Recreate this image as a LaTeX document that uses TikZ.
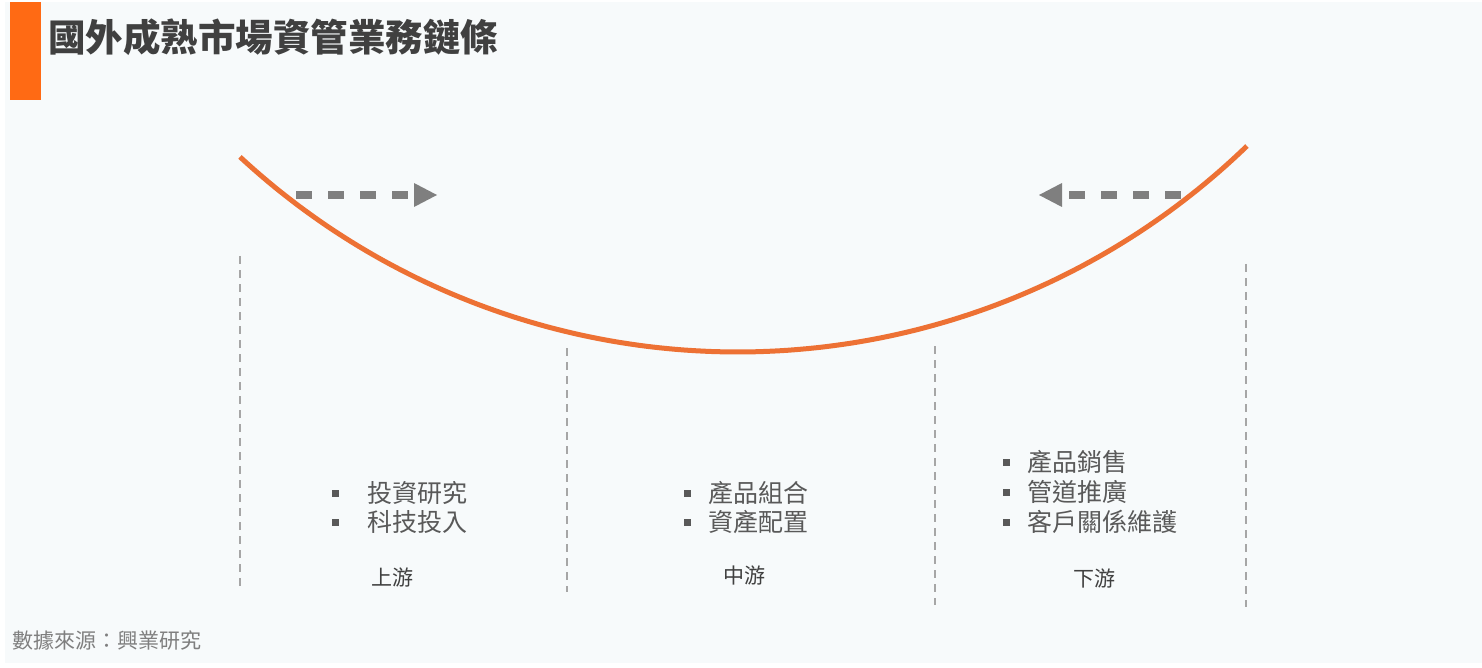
\documentclass[tikz,border=0pt]{standalone}
\usepackage{fontspec}
\setmainfont{Noto Sans CJK TC}
\usetikzlibrary{arrows.meta}
\definecolor{bg}{RGB}{247,250,251}
\definecolor{barorange}{RGB}{255,106,20}
\definecolor{curveorange}{RGB}{237,113,52}
\definecolor{titlegray}{RGB}{64,64,64}
\definecolor{itemgray}{RGB}{89,89,89}
\definecolor{arrowgray}{RGB}{127,127,127}
\definecolor{vgray}{RGB}{166,166,166}
\definecolor{srcgray}{RGB}{127,127,127}
\tikzset{
  curve/.style={draw=curveorange, line width=5pt},
  darrow/.style={draw=arrowgray, line width=8pt, dash pattern=on 16pt off 16pt,
    -{Triangle[length=23pt, width=24pt, line width=0pt]}},
  vdash/.style={draw=vgray, line width=2pt, dash pattern=on 8pt off 6pt},
  bul/.style={fill=itemgray, minimum size=7pt, inner sep=0pt, outer sep=0pt},
  item/.style={anchor=west, inner sep=0pt, text=itemgray, font=\fontsize{25}{29}\selectfont},
  lab/.style={inner sep=0pt, text=titlegray, font=\fontsize{21}{24}\selectfont},
}
\begin{document}
\begin{tikzpicture}[x=1pt,y=-1pt]
\useasboundingbox (0,0) rectangle (1482,668);
\fill[bg] (5,2) rectangle (1482,663);
\fill[barorange] (10,2) rectangle (41,100);
\node[anchor=west, inner sep=0pt, text=titlegray, font=\fontsize{37.5}{42}\selectfont\bfseries] (title) at (48,37) {國外成熟市場資管業務鏈條};

% curve
\draw[curve] plot[domain=-42.8:44.04, samples=120] ({737.7+732.6*sin(\x)}, {-380.6+732.6*cos(\x)});

% arrows
\coordinate (la1) at (296,195);
\coordinate (la2) at (437,195);
\draw[darrow] (la1) -- (la2);
\coordinate (ra1) at (1181,195);
\coordinate (ra2) at (1039,195);
\draw[darrow] (ra1) -- (ra2);

% vertical dashed lines
\coordinate (v1t) at (240,256); \coordinate (v1b) at (240,586);
\coordinate (v2t) at (567,348); \coordinate (v2b) at (567,592);
\coordinate (v3t) at (935,346); \coordinate (v3b) at (935,605);
\coordinate (v4t) at (1246,264); \coordinate (v4b) at (1246,607);
\draw[vdash] (v1t) -- (v1b);
\draw[vdash] (v2t) -- (v2b);
\draw[vdash] (v3t) -- (v3b);
\draw[vdash] (v4t) -- (v4b);

% upstream
\node[bul] (b11) at (335,493) {};
\node[item] (t11) at (367,493) {投資研究};
\node[bul] (b12) at (335,522) {};
\node[item] (t12) at (367,522) {科技投入};
\node[lab] (l1) at (392,578) {上游};

% midstream
\node[bul] (b21) at (687,493) {};
\node[item] (t21) at (708,493) {產品組合};
\node[bul] (b22) at (687,522) {};
\node[item] (t22) at (708,522) {資產配置};
\node[lab] (l2) at (744,576) {中游};

% downstream
\node[bul] (b31) at (1006,462) {};
\node[item] (t31) at (1027,462) {產品銷售};
\node[bul] (b32) at (1006,492) {};
\node[item] (t32) at (1027,492) {管道推廣};
\node[bul] (b33) at (1006,522) {};
\node[item] (t33) at (1027,522) {客戶關係維護};
\node[lab] (l3) at (1094,579) {下游};

% source
\node[anchor=west, inner sep=0pt, text=srcgray, font=\fontsize{21}{24}\selectfont] (src) at (12,641) {數據來源：興業研究};
\end{tikzpicture}
\end{document}
